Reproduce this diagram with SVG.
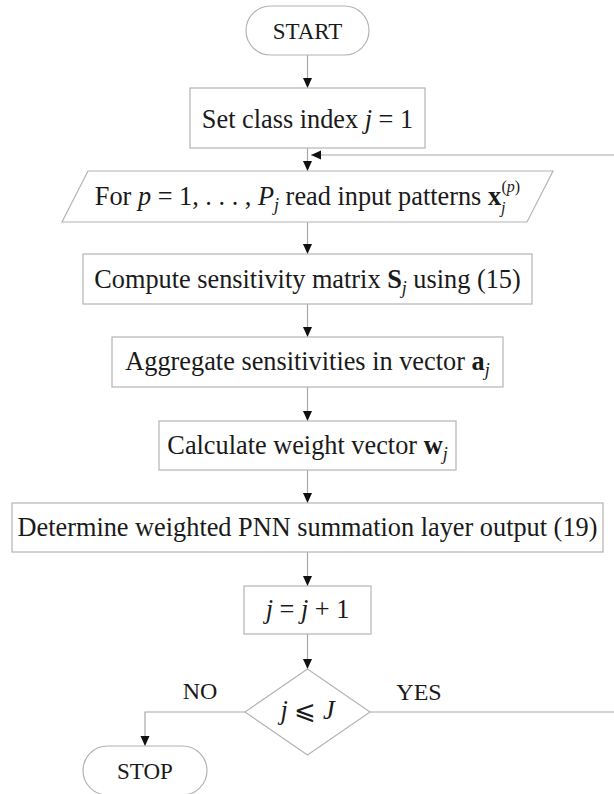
<svg xmlns="http://www.w3.org/2000/svg" width="614" height="794" viewBox="0 0 614 794">
<defs>
<marker id="ah" markerUnits="userSpaceOnUse" markerWidth="10" markerHeight="10" viewBox="0 0 10 10" refX="10" refY="5" orient="auto">
<path d="M0,0.5 L10,5 L0,9.5 z" fill="#111"/>
</marker>
<style>
.box{fill:#fff;stroke:#b4b4b4;stroke-width:1.2}
.ln{fill:none;stroke:#a8a8a8;stroke-width:1.2}
.t{font-family:"Liberation Serif","Times New Roman",serif;font-size:26.3px;fill:#1a1a1a;text-anchor:middle}
.s{font-size:23px}
.lb{font-family:"Liberation Serif","Times New Roman",serif;font-size:24px;fill:#1a1a1a;text-anchor:middle}
.i{font-style:italic}
.b{font-weight:bold}
.sub{font-size:18px;font-style:italic}
.sm{font-size:16px}
.up{font-style:normal}
</style>
</defs>
<rect width="614" height="794" fill="#fff"/>
<g id="connectors">
<line class="ln" x1="307.5" y1="55" x2="307.5" y2="88" marker-end="url(#ah)"/>
<line class="ln" x1="307.5" y1="148" x2="307.5" y2="171" marker-end="url(#ah)"/>
<line class="ln" x1="307.5" y1="222" x2="307.5" y2="254" marker-end="url(#ah)"/>
<line class="ln" x1="307.5" y1="304" x2="307.5" y2="337" marker-end="url(#ah)"/>
<line class="ln" x1="307.5" y1="387" x2="307.5" y2="421" marker-end="url(#ah)"/>
<line class="ln" x1="307.5" y1="470" x2="307.5" y2="503" marker-end="url(#ah)"/>
<line class="ln" x1="307.5" y1="552" x2="307.5" y2="586" marker-end="url(#ah)"/>
<line class="ln" x1="307.5" y1="634" x2="307.5" y2="669" marker-end="url(#ah)"/>
<path class="ln" d="M245,712 H145 V746" marker-end="url(#ah)"/>
<path class="ln" d="M370,712 H624 V155 H311" marker-end="url(#ah)"/>
</g>
<g id="start">
<rect class="box" x="246" y="6" width="123" height="49" rx="24.5"/>
<text class="t s" x="307.5" y="38.5">START</text>
</g>
<g id="setclass">
<rect class="box" x="190" y="88" width="235" height="60"/>
<text class="t" x="307.5" y="128">Set class index <tspan class="i">j</tspan> = 1</text>
</g>
<g id="readinput">
<polygon class="box" points="88,171 553,171 527,222 62,222"/>
<text class="t" x="307.5" y="205">For <tspan class="i">p</tspan> = 1, . . . , <tspan class="i">P</tspan><tspan class="sub" baseline-shift="-6">j</tspan> read input patterns <tspan class="b">x</tspan><tspan class="sub sm" baseline-shift="-8">j</tspan><tspan class="sub sm up" dx="-4" baseline-shift="13">(<tspan class="i">p</tspan>)</tspan></text>
</g>
<g id="compute">
<rect class="box" x="83" y="254" width="449" height="50"/>
<text class="t" x="307.5" y="288">Compute sensitivity matrix <tspan class="b">S</tspan><tspan class="sub" baseline-shift="-6">j</tspan> using (15)</text>
</g>
<g id="aggregate">
<rect class="box" x="112" y="337" width="391" height="50"/>
<text class="t" x="307.5" y="370">Aggregate sensitivities in vector <tspan class="b">a</tspan><tspan class="sub" baseline-shift="-6">j</tspan></text>
</g>
<g id="calculate">
<rect class="box" x="159" y="421" width="297" height="49"/>
<text class="t" x="307.5" y="454">Calculate weight vector <tspan class="b">w</tspan><tspan class="sub" baseline-shift="-6">j</tspan></text>
</g>
<g id="determine">
<rect class="box" x="12" y="503" width="591" height="49"/>
<text class="t" x="307.5" y="536">Determine weighted PNN summation layer output (19)</text>
</g>
<g id="increment">
<rect class="box" x="244" y="586" width="127" height="48"/>
<text class="t" x="307.5" y="618"><tspan class="i">j</tspan> = <tspan class="i">j</tspan> + 1</text>
</g>
<g id="decision">
<polygon class="box" points="307.5,669 370,712 307.5,755 245,712"/>
<text class="t" x="307.5" y="719"><tspan class="i">j</tspan> ⩽ <tspan class="i">J</tspan></text>
<text class="lb" x="200" y="699">NO</text>
<text class="lb" x="419" y="700">YES</text>
</g>
<g id="stop">
<rect class="box" x="83" y="746" width="124" height="49" rx="24.5"/>
<text class="t s" x="145" y="779">STOP</text>
</g>
</svg>
